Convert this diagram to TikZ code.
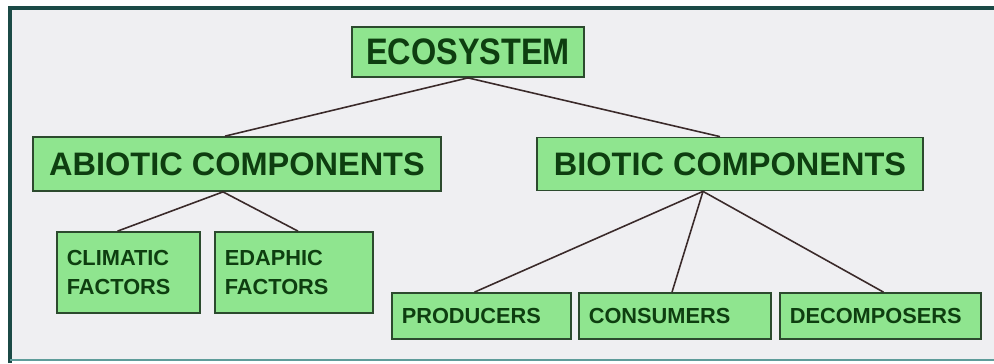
\documentclass[tikz,border=0pt]{standalone}
\usepackage{fontspec}
\setmainfont{Liberation Sans}
\newfontfamily\ecofont[FakeStretch=0.88]{Liberation Sans}
\usepackage{xcolor}
\usepackage{tikz}
\usetikzlibrary{calc}
\definecolor{ESPanel}{HTML}{EFEFF2}
\definecolor{ESTeal}{HTML}{1B4A46}
\definecolor{ESTealLight}{HTML}{5E9C9A}
\definecolor{ESLeaf}{HTML}{8FE58F}
\definecolor{ESInk}{HTML}{0E3E10}
\definecolor{ESEdge}{HTML}{2C4A2E}
\definecolor{ESLink}{HTML}{3A2A2A}

\begin{document}
\begin{tikzpicture}[x=0.02cm, y=-0.02cm,
  comp/.style={draw=ESEdge, fill=ESLeaf, line width=1pt, inner sep=0pt,
    align=center, text=ESInk, font=\bfseries\fontsize{18.5}{20}\selectfont},
  factor/.style={draw=ESEdge, fill=ESLeaf, line width=1pt, inner xsep=5.5pt, inner ysep=0pt,
    align=left, text=ESInk, font=\bfseries\fontsize{12.4}{17}\selectfont},
  link/.style={draw=ESLink, line width=0.9pt},
]
  \useasboundingbox (0,0) rectangle (994,363);
  \fill[white] (0,0) rectangle (994,363);
  \fill[ESPanel] (10,8) rectangle (994,360);
  \draw[ESTeal, line width=2.4pt] (10,363) -- (10,8) -- (994,8);
  \draw[ESTealLight, line width=1pt] (10,360) -- (994,360);

  \node[comp, minimum width=4.64cm, minimum height=1.0cm,
    font=\ecofont\bfseries\fontsize{21}{22}\selectfont] (eco) at (468,52) {ECOSYSTEM};
  \node[comp, minimum width=8.16cm, minimum height=1.08cm] (abiotic) at (237,164)
    {ABIOTIC COMPONENTS};
  \node[comp, minimum width=7.72cm, minimum height=1.06cm] (biotic) at (730,164)
    {BIOTIC COMPONENTS};

  \node[factor, text width=2.47cm, minimum height=1.62cm] (climatic) at (128.5,272.5)
    {CLIMATIC\\FACTORS};
  \node[factor, text width=2.77cm, minimum height=1.62cm] (edaphic) at (294,272.5)
    {EDAPHIC\\FACTORS};
  \node[factor, text width=3.19cm, minimum height=0.92cm] (producers) at (481.5,316)
    {PRODUCERS};
  \node[factor, text width=3.45cm, minimum height=0.92cm] (consumers) at (675,316)
    {CONSUMERS};
  \node[factor, text width=3.63cm, minimum height=0.92cm] (decomposers) at (880.5,316)
    {DECOMPOSERS};

  \draw[link] (eco.south) -- ($(abiotic.north)+(-12,0)$);
  \draw[link] (eco.south) -- ($(biotic.north)+(-10,0)$);
  \draw[link] ($(abiotic.south)+(-14,0)$) -- ($(climatic.north)+(-11,0)$);
  \draw[link] ($(abiotic.south)+(-14,0)$) -- ($(edaphic.north)+(4,0)$);
  \draw[link] ($(biotic.south)+(-27,0)$) -- ($(producers.north)+(-7,0)$);
  \draw[link] ($(biotic.south)+(-27,0)$) -- ($(consumers.north)+(-3,0)$);
  \draw[link] ($(biotic.south)+(-27,0)$) -- ($(decomposers.north)+(3,0)$);
\end{tikzpicture}
\end{document}
